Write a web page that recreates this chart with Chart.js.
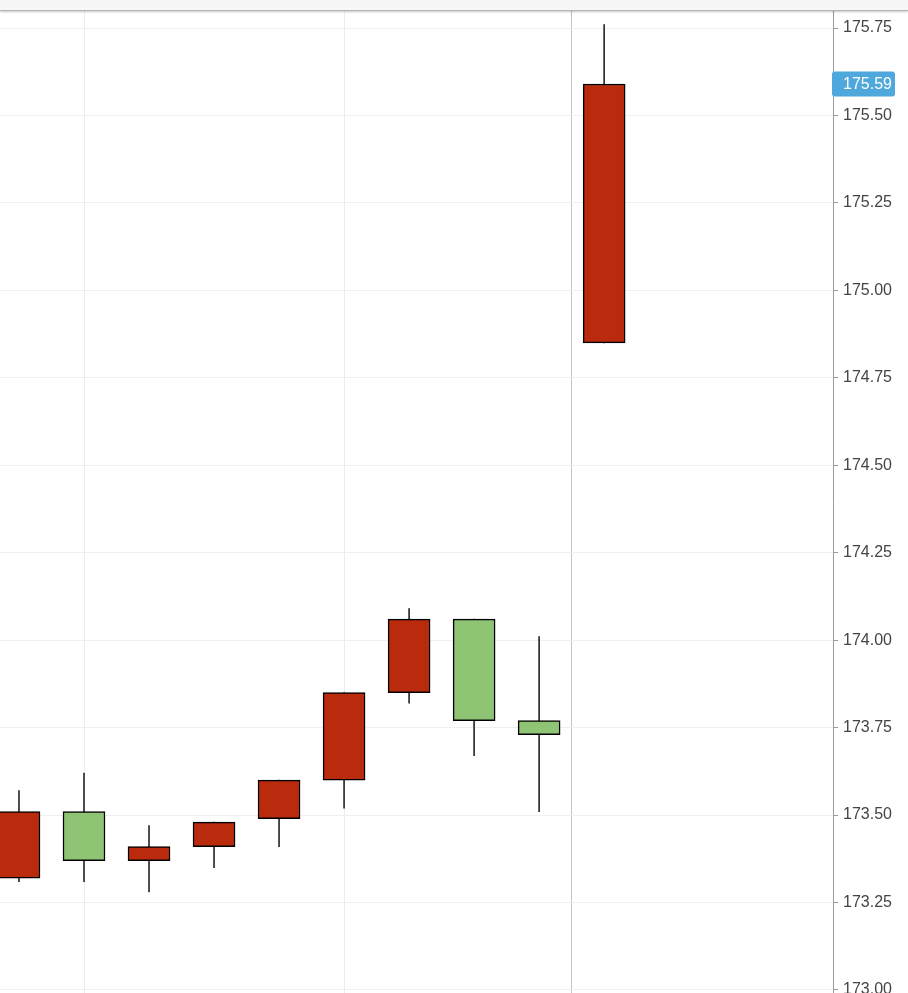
<!DOCTYPE html>
<html><head><meta charset="utf-8">
<script src="https://cdn.jsdelivr.net/npm/chart.js@4"></script>
<style>
html,body{margin:0;padding:0;background:#fff;width:908px;height:993px;overflow:hidden;}
#topbar{position:absolute;left:0;top:0;width:908px;height:10px;background:#f7f7f7;border-bottom:1px solid #b4b4b4;box-shadow:0 1px 2px rgba(0,0,0,0.22);z-index:2}
#wrap{position:absolute;left:0;top:11px;width:908px;height:982px;}
</style></head><body>
<div id="topbar"></div>
<div id="wrap"><canvas id="c" width="908" height="982"></canvas></div>
<script>
const candleIndex = [0, 1, 2, 3, 4, 5, 6, 7, 8, 9];
const opens  = [173.32, 173.51, 173.37, 173.41, 173.49, 173.60, 173.85, 174.06, 173.77, 174.85];
const closes = [173.51, 173.37, 173.41, 173.48, 173.60, 173.85, 174.06, 173.77, 173.73, 175.59];
const highs  = [173.57, 173.62, 173.47, 173.48, 173.60, 173.85, 174.09, 174.06, 174.01, 175.76];
const lows   = [173.31, 173.31, 173.28, 173.35, 173.41, 173.52, 173.82, 173.67, 173.51, 174.85];
const yTicks = [173.00, 173.25, 173.50, 173.75, 174.00, 174.25, 174.50, 174.75, 175.00, 175.25, 175.50, 175.75];
const xGridAt = [1, 5];
const sessionBreak = [8.5];

const UP = '#b92b0c', DOWN = '#8ec474';
const lastPrice = closes[closes.length - 1];

const priceTag = {
  id: 'priceTag',
  afterDraw(chart) {
    const ctx = chart.ctx, y = chart.scales.y.getPixelForValue(lastPrice);
    const x0 = chart.chartArea.right - 1, w = 63, h = 25;
    ctx.save();
    ctx.fillStyle = '#4ea8dc';
    ctx.beginPath();
    ctx.roundRect(x0, y - h / 2, w, h, 3);
    ctx.fill();
    ctx.fillStyle = '#ffffff';
    ctx.font = '16px "Liberation Sans", Arial, sans-serif';
    ctx.textBaseline = 'middle';
    ctx.textAlign = 'left';
    ctx.fillText(lastPrice.toFixed(2), chart.chartArea.right + 10, y + 1);
    ctx.restore();
  }
};

new Chart(document.getElementById('c'), {
  type: 'bar',
  data: {
    datasets: [
      {
        label: 'wick',
        data: candleIndex.map((x, i) => ({ x: x, y: [lows[i], highs[i]] })),
        backgroundColor: '#2a2a2a',
        borderWidth: 0,
        barThickness: 1,
        grouped: false,
        order: 2
      },
      {
        label: 'body',
        data: candleIndex.map((x, i) => ({ x: x, y: [opens[i], closes[i]] })),
        backgroundColor: candleIndex.map((x, i) => closes[i] >= opens[i] ? UP : DOWN),
        borderColor: '#000000',
        borderWidth: 1.5,
        borderSkipped: false,
        barThickness: 42,
        grouped: false,
        order: 1
      }
    ]
  },
  options: {
    responsive: false,
    animation: false,
    layout: { padding: 0 },
    plugins: { legend: { display: false }, tooltip: { enabled: false } },
    scales: {
      x: {
        type: 'linear',
        offset: false,
        min: -0.292,
        max: 12.52,
        ticks: { display: false },
        border: { display: false },
        grid: {
          offset: false,
          drawTicks: false,
          color: (c) => (c.tick && sessionBreak.includes(c.tick.value)) ? '#c4c4c4' : '#ececec',
          lineWidth: 1
        },
        afterBuildTicks: (s) => { s.ticks = xGridAt.concat(sessionBreak).map(v => ({ value: v })); },
        afterFit: (s) => { s.height = 0; }
      },
      y: {
        position: 'right',
        min: 172.9914,
        max: 175.7986,
        afterBuildTicks: (s) => { s.ticks = yTicks.map(v => ({ value: v })); },
        afterFit: (s) => { s.width = 75; s.paddingTop = 0; s.paddingBottom = 0; },
        ticks: {
          color: '#444',
          padding: 5,
          font: { family: '"Liberation Sans", Arial, sans-serif', size: 16 },
          callback: (v) => Number(v).toFixed(2)
        },
        grid: { color: '#efefef', tickLength: 5, tickColor: '#9a9a9a' },
        border: { color: '#9a9a9a', width: 1 }
      }
    }
  },
  plugins: [priceTag]
});
</script>
</body></html>
